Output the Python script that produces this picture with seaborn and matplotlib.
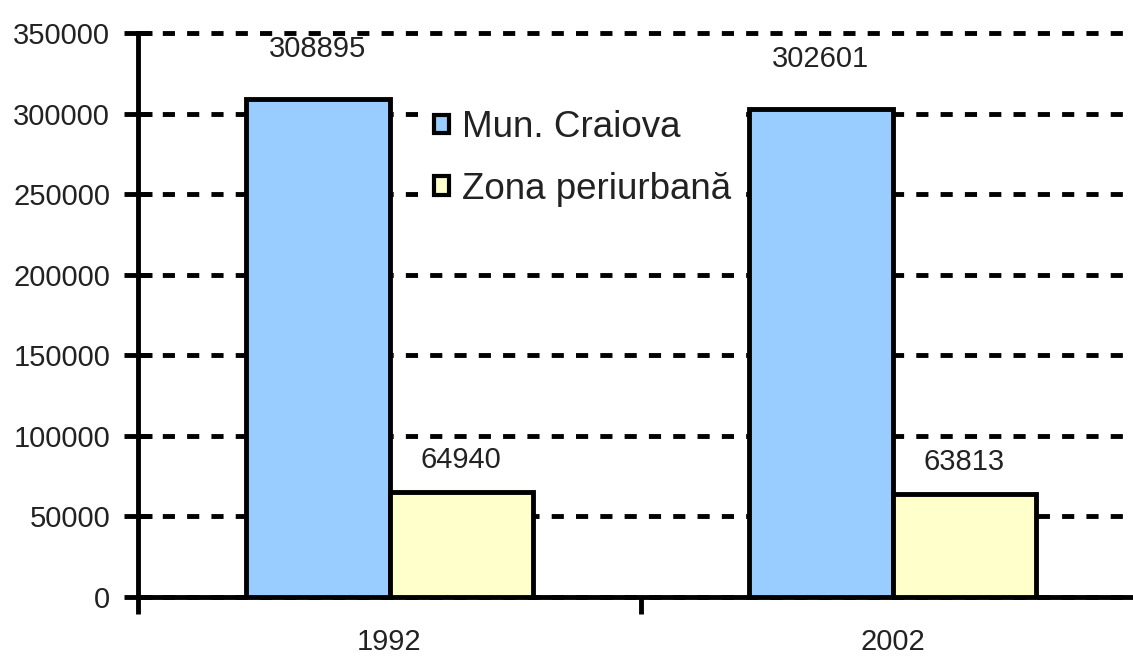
import matplotlib
matplotlib.use("Agg")
import matplotlib.pyplot as plt
import seaborn as sns
import pandas as pd

years = ["1992", "2002"]
series = ["Mun. Craiova", "Zona periurbană"]
craiova = [308895, 302601]
periurban = [64940, 63813]
yticks = [0, 50000, 100000, 150000, 200000, 250000, 300000, 350000]

df = pd.DataFrame({
    "year": years * 2,
    "series": [series[0]] * 2 + [series[1]] * 2,
    "value": craiova + periurban,
})

sns.set_theme(style="white")
plt.rcParams["font.family"] = ["Liberation Sans", "DejaVu Sans"]

W, H = 1133, 656
fig = plt.figure(figsize=(W / 100, H / 100), dpi=100)
ax = fig.add_axes([138 / W, (H - 597) / H, 1006 / W, (597 - 33) / H])

palette = {series[0]: "#99CCFF", series[1]: "#FFFFCC"}
sns.barplot(data=df, x="year", y="value", hue="series", palette=palette,
            width=0.57, edgecolor="black", linewidth=3.5, saturation=1,
            ax=ax, legend=True, zorder=3)

ax.set_xlim(-0.5, 1.5)
ax.set_ylim(0, 350000)
ax.set_yticks(yticks)
ax.set_yticklabels([str(v) for v in yticks], fontsize=21, color="#222222")
ax.set_xlabel("")
ax.set_ylabel("")

# gridlines
ax.yaxis.grid(True, color="black", linewidth=3.5, linestyle=(0, (2.5, 2.5)), zorder=0)
ax.set_axisbelow(True)
for gl in ax.get_ygridlines():
    gl.set_clip_on(False)

# ticks
ax.tick_params(axis="y", direction="inout", length=20, width=3.5, color="black", pad=10, left=True)
ax.set_xticks([0, 1])
ax.set_xticklabels(years, fontsize=21, color="#222222")
ax.tick_params(axis="x", which="major", length=0, pad=22)
ax.set_xticks([-0.5, 0.5, 1.5], minor=True)
ax.tick_params(axis="x", which="minor", direction="out", length=12, width=3.5, color="black", bottom=True)

for s in ["top", "right"]:
    ax.spines[s].set_visible(False)
for s in ["left", "bottom"]:
    ax.spines[s].set_color("black")
    ax.spines[s].set_linewidth(3.5)

# data labels
pads = [26, 13]
for cont, pad in zip(ax.containers, pads):
    ax.bar_label(cont, labels=[f"{int(v)}" for v in cont.datavalues],
                 padding=pad, fontsize=21, color="#222222")

# legend
leg = ax.legend(loc="upper left", bbox_to_anchor=(424 / W, 1 - 100 / H),
                bbox_transform=fig.transFigure, frameon=True, fontsize=26.5,
                handlelength=0.4, handleheight=0.4, handletextpad=0.36,
                labelspacing=0.72, borderaxespad=0, borderpad=0.28,
                fancybox=False)
leg.get_frame().set_facecolor("white")
leg.get_frame().set_edgecolor("white")
leg.get_frame().set_alpha(1)
leg.set_zorder(5)
for t in leg.get_texts():
    t.set_color("#222222")
for h in leg.legend_handles:
    h.set_edgecolor("black")
    h.set_linewidth(3)

fig.savefig("out.png", dpi=100)
